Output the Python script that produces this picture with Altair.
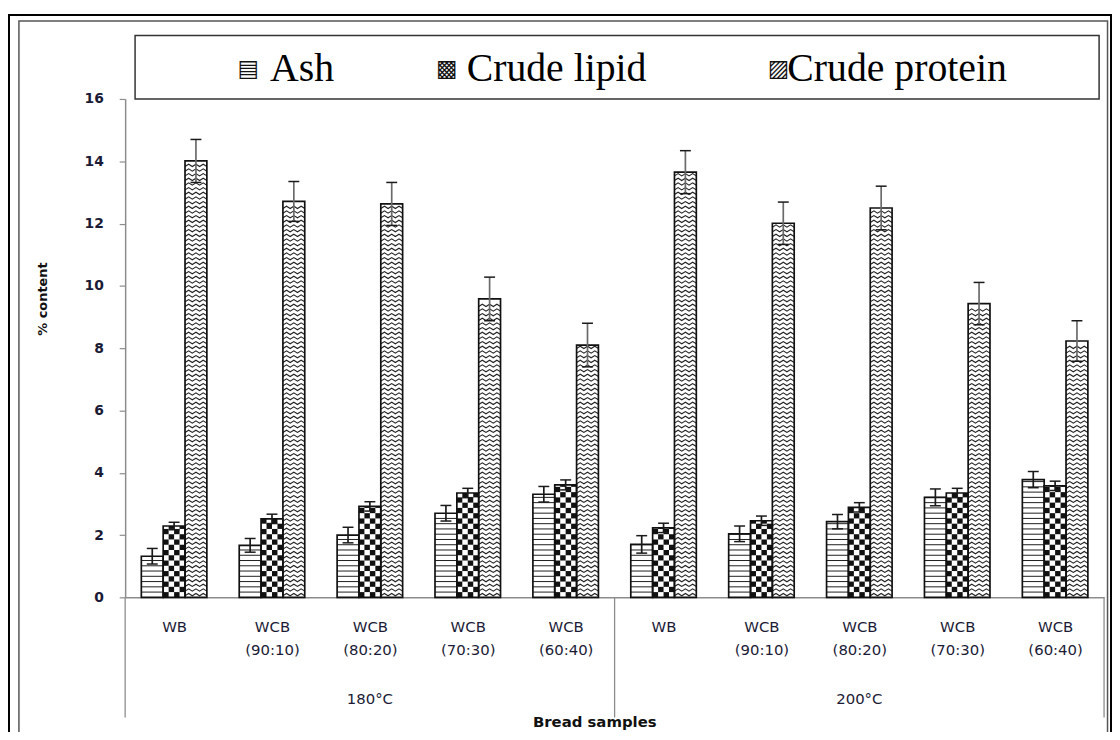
import json
import altair as alt
import pandas as pd

# ---------------- data ----------------
samples = ["WB", "WCB (90:10)", "WCB (80:20)", "WCB (70:30)", "WCB (60:40)"]
temps = ["180°C", "200°C"]
nutrients = ["Ash", "Crude lipid", "Crude protein"]
y_ticks = [0, 2, 4, 6, 8, 10, 12, 14, 16]

ash_180 = [1.32, 1.67, 2.00, 2.70, 3.31]
ash_180_sd = [0.25, 0.22, 0.25, 0.25, 0.25]
lipid_180 = [2.29, 2.52, 2.92, 3.35, 3.61]
lipid_180_sd = [0.12, 0.15, 0.15, 0.15, 0.16]
protein_180 = [14.01, 12.71, 12.63, 9.58, 8.10]
protein_180_sd = [0.69, 0.64, 0.69, 0.70, 0.70]

ash_200 = [1.70, 2.04, 2.43, 3.21, 3.78]
ash_200_sd = [0.28, 0.25, 0.23, 0.27, 0.26]
lipid_200 = [2.23, 2.46, 2.89, 3.35, 3.58]
lipid_200_sd = [0.15, 0.15, 0.15, 0.15, 0.15]
protein_200 = [13.65, 12.01, 12.50, 9.43, 8.23]
protein_200_sd = [0.69, 0.68, 0.70, 0.68, 0.65]

values = {"180°C": [ash_180, lipid_180, protein_180],
          "200°C": [ash_200, lipid_200, protein_200]}
errors = {"180°C": [ash_180_sd, lipid_180_sd, protein_180_sd],
          "200°C": [ash_200_sd, lipid_200_sd, protein_200_sd]}

rows = []
for t, temp in enumerate(temps):
    for s, sample in enumerate(samples):
        for k, nut in enumerate(nutrients):
            rows.append({"gi": t * len(samples) + s, "k": k, "nutrient": nut,
                         "sample": sample, "temp": temp,
                         "value": values[temp][k][s], "sd": errors[temp][k][s]})
df = pd.DataFrame(rows)

# ---------------- layout / style ----------------
W, H = 986, 502
N = len(samples) * len(temps)
PX_X = N / W                      # x data units per pixel
PX_Y = (y_ticks[-1] - y_ticks[0]) / H   # y data units per pixel
BW = 22 * PX_X                    # bar width
HATCH = 5.3 * PX_Y                # hatch / checker row height
ZSTEP = 4.7 * PX_Y                # zigzag row spacing
AMP = 2.3 * PX_Y                  # zigzag amplitude
CAP = 5.5 * PX_X                  # half cap width
FONT = "DejaVu Sans"
LABEL_COLOR = "#1b1b36"

XS = alt.Scale(domain=[0, N], nice=False, zero=False)
YS = alt.Scale(domain=[y_ticks[0], y_ticks[-1]], nice=False, zero=False)

label_arr = json.dumps([name.split(" ") for name in samples])
XAXIS = alt.Axis(values=[i + 0.5 for i in range(N)],
                 labelExpr=f"{label_arr}[floor(datum.value) % {len(samples)}]",
                 ticks=False, tickSize=0, grid=False,
                 domainColor="#8c8c8c", domainWidth=1.5,
                 labelFont=FONT, labelFontSize=15, labelColor=LABEL_COLOR,
                 labelPadding=22, labelLineHeight=24, labelAngle=0,
                 labelFlush=False, labelOverlap=False, title="")
YAXIS = alt.Axis(values=y_ticks, grid=False,
                 domainColor="#8c8c8c", domainWidth=1.5,
                 tickColor="#8c8c8c", tickWidth=1.2, tickSize=6,
                 labelFont=FONT, labelFontWeight="bold", labelFontSize=14,
                 labelColor=LABEL_COLOR, labelPadding=16,
                 title="% content", titleFont=FONT, titleFontSize=13,
                 titleFontWeight="bold", titleColor="#111111",
                 titleX=-83, titleY=201, titleBaseline="middle")


def X(field):
    return alt.X(field, scale=XS, axis=XAXIS)


def Y(field):
    return alt.Y(field, scale=YS, axis=YAXIS)


base = alt.Chart(df).transform_calculate(
    x0=f"datum.gi + 0.5 + (datum.k - 1.5) * {BW}",
    x1=f"datum.gi + 0.5 + (datum.k - 0.5) * {BW}",
    y0="0",
)

fill = base.mark_rect(fill="white", strokeWidth=0).encode(
    x=X("x0:Q"), x2="x1:Q", y=Y("y0:Q"), y2="value:Q")

ash_lines = base.transform_filter("datum.k == 0").transform_calculate(
    lv=f"sequence({HATCH}, datum.value, {HATCH})"
).transform_flatten(["lv"]).mark_rule(color="#1e1e1e", strokeWidth=1).encode(
    x=X("x0:Q"), x2="x1:Q", y=Y("lv:Q"))

checker = base.transform_filter("datum.k == 1").transform_calculate(
    r=f"sequence(0, ceil(datum.value / {HATCH}))"
).transform_flatten(["r"]).transform_calculate(
    c="datum.r % 2 == 0 ? [0, 2] : [1, 3]"
).transform_flatten(["c"]).transform_calculate(
    cx0=f"datum.x0 + datum.c * {BW / 4}",
    cx1=f"datum.x0 + (datum.c + 1) * {BW / 4}",
    cy0=f"datum.r * {HATCH}",
    cy1=f"min((datum.r + 1) * {HATCH}, datum.value)",
).mark_rect(color="#111111", strokeWidth=0).encode(
    x=X("cx0:Q"), x2="cx1:Q", y=Y("cy0:Q"), y2="cy1:Q")

zigzag = base.transform_filter("datum.k == 2").transform_calculate(
    r=f"sequence(0, floor((datum.value - {2 * AMP}) / {ZSTEP}) + 1)"
).transform_flatten(["r"]).transform_calculate(
    j="[0, 1, 2, 3, 4, 5, 6]"
).transform_flatten(["j"]).transform_calculate(
    zx=f"datum.x0 + datum.j * {BW / 6}",
    zy=f"{ZSTEP / 3} + datum.r * {ZSTEP} + (datum.j % 2 == 1 ? {AMP} : 0)",
    row="datum.gi + '_' + datum.r",
).mark_line(color="#222222", strokeWidth=1.1).encode(
    x=X("zx:Q"), y=Y("zy:Q"), detail="row:N", order="j:Q")

outline = base.mark_rect(fillOpacity=0, stroke="#111111", strokeWidth=1.7).encode(
    x=X("x0:Q"), x2="x1:Q", y=Y("y0:Q"), y2="value:Q")

eb = base.transform_calculate(
    xc=f"datum.gi + 0.5 + (datum.k - 1) * {BW}",
    lo="datum.value - datum.sd",
    hi="datum.value + datum.sd",
).transform_calculate(
    cl=f"datum.xc - {CAP}", cr=f"datum.xc + {CAP}",
    col="datum.k == 2 ? '#6a6a6a' : '#1a1a1a'",
)
stems = eb.mark_rule(strokeWidth=1.7).encode(
    x=X("xc:Q"), y=Y("lo:Q"), y2="hi:Q",
    color=alt.Color("col:N", scale=None))
caps_hi = eb.mark_rule(color="#1a1a1a", strokeWidth=1.5).encode(
    x=X("cl:Q"), x2="cr:Q", y=Y("hi:Q"))
caps_lo = eb.mark_rule(color="#1a1a1a", strokeWidth=1.5).encode(
    x=X("cl:Q"), x2="cr:Q", y=Y("lo:Q"))

# category-group separators (Excel multi-level axis)
sep_df = pd.DataFrame({"b": [t * len(samples) for t in range(len(temps) + 1)]})
seps = alt.Chart(sep_df).mark_rule(color="#8c8c8c", strokeWidth=1.3).encode(
    x=X("b:Q"), y=alt.value(H), y2=alt.value(H + 121))

temp_df = pd.DataFrame({"temp": temps, "t": list(range(len(temps)))})
temp_labels = alt.Chart(temp_df).transform_calculate(
    xm=f"datum.t * {len(samples)} + {len(samples) / 2}"
).mark_text(font=FONT, fontSize=15, color=LABEL_COLOR, baseline="alphabetic").encode(
    x=X("xm:Q"), y=alt.value(H + 107), text="temp:N")

one = pd.DataFrame({"a": [0]})
x_title = alt.Chart(one).mark_text(
    text="Bread samples", font=FONT, fontSize=15, fontWeight="bold",
    color="#111111", baseline="alphabetic").encode(
    x=alt.value(473), y=alt.value(H + 131))

# frames
outer = alt.Chart(one).mark_rect(fillOpacity=0, stroke="#000000", strokeWidth=2).encode(
    x=alt.value(-117), x2=alt.value(993), y=alt.value(-84.5), y2=alt.value(H + 200))
inner = alt.Chart(one).mark_rect(fillOpacity=0, stroke="#555555", strokeWidth=1.5).encode(
    x=alt.value(-107), x2=alt.value(989.5), y=alt.value(-78.5), y2=alt.value(H + 200))

# legend box
LEG_GLYPH = ["▤", "▩", "▨"]
LEG_SYM_X = [124, 324, 658]
LEG_TXT_X = [146, 344, 667]
leg_box = alt.Chart(one).mark_rect(fill="white", stroke="#333333", strokeWidth=1.5).encode(
    x=alt.value(10), x2=alt.value(981), y=alt.value(-64), y2=alt.value(0))
legend_layers = [leg_box]
for i, nut in enumerate(nutrients):
    ldf = pd.DataFrame({"label": [nut], "glyph": [LEG_GLYPH[i]]})
    legend_layers.append(alt.Chart(ldf).mark_text(
        font=FONT, fontSize=23, color="#111111", baseline="middle", align="center"
    ).encode(x=alt.value(LEG_SYM_X[i]), y=alt.value(-30), text="glyph:N"))
    legend_layers.append(alt.Chart(ldf).mark_text(
        font="Liberation Serif", fontSize=40, color="#000000",
        baseline="alphabetic", align="left"
    ).encode(x=alt.value(LEG_TXT_X[i]), y=alt.value(-18), text="label:N"))

chart = alt.layer(
    outer, inner, *legend_layers,
    fill, ash_lines, checker, zigzag, outline,
    stems, caps_hi, caps_lo, seps, temp_labels, x_title,
).properties(
    width=W, height=H,
    autosize=alt.AutoSizeParams(type="none"),
    padding={"left": 118, "top": 89, "right": 8, "bottom": 133},
).configure_view(strokeWidth=0)

chart.save("out.html", embed_options={"renderer": "svg", "actions": False})
